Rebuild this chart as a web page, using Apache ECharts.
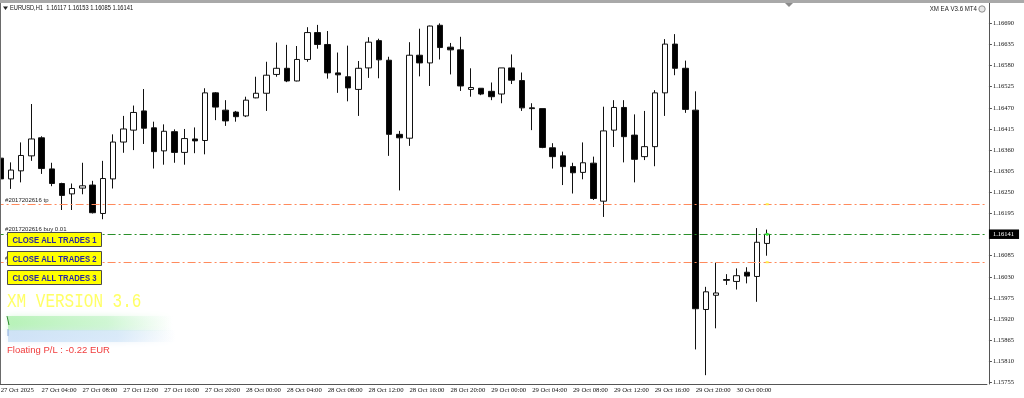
<!DOCTYPE html>
<html><head><meta charset="utf-8">
<script src="https://cdn.jsdelivr.net/npm/echarts@6/dist/echarts.min.js"></script>
<style>html,body{margin:0;padding:0;background:#fff}#c{width:1024px;height:398px}</style>
</head><body><div id="c"></div>
<script>
// ---- data ----
const symbolName = 'EURUSD,H1';
const xTickLabels = ['27 Oct 2025','27 Oct 04:00','27 Oct 08:00','27 Oct 12:00','27 Oct 16:00','27 Oct 20:00',
  '28 Oct 00:00','28 Oct 04:00','28 Oct 08:00','28 Oct 12:00','28 Oct 16:00','28 Oct 20:00',
  '29 Oct 00:00','29 Oct 04:00','29 Oct 08:00','29 Oct 12:00','29 Oct 16:00','29 Oct 20:00','30 Oct 00:00'];
const opens = [1.16339,1.16285,1.16306,1.16345,1.16392,1.16311,1.16273,1.16246,1.16261,1.16269,
  1.16195,1.16285,1.16381,1.16412,1.16462,1.16418,1.16358,1.16408,1.16354,1.16389,
  1.16385,1.16509,1.16464,1.16459,1.16449,1.16496,1.16508,1.16557,1.16573,1.16540,
  1.16596,1.16666,1.16635,1.16561,1.16551,1.16518,1.16574,1.16645,1.16594,1.16401,
  1.16391,1.16607,1.16587,1.16685,1.16628,1.16621,1.16518,1.16521,1.16513,1.16506,
  1.16574,1.16541,1.16470,1.16468,1.16366,1.16345,1.16317,1.16302,1.16326,1.16227,
  1.16412,1.16471,1.16399,1.16343,1.16369,1.16509,1.16636,1.16573,1.16464,1.15945,
  1.15982,1.16023,1.16018,1.16042,1.16031,1.16117];
const highs = [1.16347,1.16328,1.16380,1.16480,1.16396,1.16327,1.16275,1.16273,1.16327,1.16280,
  1.16332,1.16401,1.16449,1.16476,1.16519,1.16434,1.16427,1.16414,1.16415,1.16419,
  1.16521,1.16511,1.16490,1.16462,1.16499,1.16551,1.16590,1.16640,1.16634,1.16631,
  1.16680,1.16686,1.16670,1.16614,1.16632,1.16592,1.16654,1.16650,1.16603,1.16410,
  1.16641,1.16676,1.16684,1.16690,1.16639,1.16655,1.16573,1.16521,1.16536,1.16574,
  1.16609,1.16562,1.16482,1.16468,1.16378,1.16356,1.16327,1.16380,1.16343,1.16473,
  1.16490,1.16490,1.16453,1.16462,1.16516,1.16649,1.16662,1.16593,1.16513,1.16004,
  1.16067,1.16037,1.16052,1.16055,1.16157,1.16153];
const lows = [1.16266,1.16259,1.16276,1.16332,1.16298,1.16266,1.16204,1.16204,1.16245,1.16195,
  1.16180,1.16260,1.16353,1.16360,1.16376,1.16312,1.16322,1.16327,1.16322,1.16352,
  1.16349,1.16438,1.16423,1.16434,1.16446,1.16495,1.16462,1.16551,1.16537,1.16539,
  1.16590,1.16624,1.16546,1.16509,1.16487,1.16449,1.16548,1.16547,1.16345,1.16255,
  1.16371,1.16552,1.16527,1.16596,1.16557,1.16514,1.16499,1.16503,1.16490,1.16482,
  1.16532,1.16462,1.16412,1.16365,1.16312,1.16269,1.16247,1.16284,1.16230,1.16186,
  1.16368,1.16328,1.16276,1.16334,1.16318,1.16449,1.16555,1.16457,1.15841,1.15774,
  1.15896,1.16009,1.15997,1.16013,1.15965,1.16085];
const closes = [1.16285,1.16308,1.16346,1.16389,1.16312,1.16273,1.16242,1.16260,1.16267,1.16197,
  1.16286,1.16381,1.16415,1.16458,1.16417,1.16356,1.16409,1.16354,1.16390,1.16384,
  1.16509,1.16472,1.16436,1.16447,1.16490,1.16508,1.16555,1.16573,1.16540,1.16596,
  1.16666,1.16635,1.16561,1.16556,1.16522,1.16573,1.16641,1.16595,1.16401,1.16392,
  1.16607,1.16587,1.16683,1.16627,1.16621,1.16527,1.16523,1.16506,1.16499,1.16574,
  1.16542,1.16470,1.16468,1.16367,1.16343,1.16317,1.16301,1.16327,1.16234,1.16410,
  1.16471,1.16395,1.16336,1.16369,1.16509,1.16636,1.16573,1.16466,1.15947,1.15991,
  1.15988,1.16021,1.16033,1.16032,1.16120,1.16141];
const yTickLabels = ['1.15755','1.15810','1.15865','1.15920','1.15975','1.16030','1.16085',
  '1.16195','1.16250','1.16305','1.16360','1.16415','1.16470','1.16525','1.16580','1.16635','1.16690'];
const tpPrice = 1.16219;
const slPrice = 1.16068;
const orderPrice = 1.16141;
const orderTicket = '#2017202616';
const floatingPL = 'Floating P/L : -0.22 EUR';
const eaName = 'XM EA V3.6 MT4';
const versionText = 'XM VERSION 3.6';
const buttonLabels = ['CLOSE ALL TRADES 1','CLOSE ALL TRADES 2','CLOSE ALL TRADES 3'];

// ---- build ----
const N_SLOTS = 97;
const cats = Array.from({length: N_SLOTS}, (_, i) => String(i));
const candleData = opens.map((o, i) => [o, closes[i], lows[i], highs[i]]);
const showTick = i => i % 4 === 0 && (i / 4) < xTickLabels.length;
const yTickValues = yTickLabels.map(Number);
const last = opens.length - 1;
const bid = closes[last];
const header = symbolName + '  ' + [opens[last], highs[last], lows[last], closes[last]].map(v => v.toFixed(5)).join(' ');
const SANS = '"Liberation Sans", Arial, sans-serif';
const SERIF = '"Liberation Serif", "Times New Roman", serif';
const dashDot = [8, 3, 2, 3];

const graphics = [
  {type:'rect', shape:{x:0, y:0, width:1024, height:3}, style:{fill:'#a9a9a9'}, z:100},
  {type:'line', shape:{x1:0.5, y1:3, x2:0.5, y2:384}, style:{stroke:'#6a6a6a', lineWidth:1}, z:100},
  {type:'polygon', shape:{points:[[785,3],[793,3],[789,7]]}, style:{fill:'#8c8c8c'}, z:100},
  {type:'polygon', shape:{points:[[3,6.5],[8,6.5],[5.5,10]]}, style:{fill:'#222'}, z:100},
  {type:'text', x:10, y:8.5, scaleX:0.84, style:{text:header, font:'6.8px ' + SANS, fill:'#111', verticalAlign:'middle'}, z:100},
  {type:'text', x:977, y:9, scaleX:0.9, style:{text:eaName, font:'6.8px ' + SANS, fill:'#222', align:'right', verticalAlign:'middle'}, z:100},
  {type:'circle', shape:{cx:982, cy:9, r:3.2}, style:{fill:'#e8e8e8', stroke:'#777', lineWidth:0.8}, z:100},
  {type:'text', x:7, y:302, scaleX:0.8, style:{text:versionText, font:'20px "Liberation Mono", monospace', fill:'#ffff66', verticalAlign:'middle'}, z:100},
  {type:'rect', shape:{x:8, y:316, width:165, height:15}, style:{fill:{type:'linear', x:0, y:0, x2:1, y2:0, colorStops:[
      {offset:0, color:'rgba(170,240,170,0.75)'}, {offset:0.6, color:'rgba(200,245,205,0.7)'}, {offset:1, color:'rgba(225,250,235,0)'}]},
      shadowBlur:6, shadowColor:'rgba(180,240,185,0.6)'}, z:100},
  {type:'rect', shape:{x:8, y:330, width:168, height:12}, style:{fill:{type:'linear', x:0, y:0, x2:1, y2:0, colorStops:[
      {offset:0, color:'rgba(200,222,245,0.8)'}, {offset:0.65, color:'rgba(210,230,248,0.7)'}, {offset:1, color:'rgba(225,238,250,0)'}]},
      shadowBlur:6, shadowColor:'rgba(205,225,245,0.6)'}, z:100},
  {type:'line', shape:{x1:7, y1:316, x2:9, y2:325}, style:{stroke:'#2a8a2a', lineWidth:1}, z:101},
  {type:'line', shape:{x1:8, y1:329, x2:8, y2:336}, style:{stroke:'#88aadd', lineWidth:1}, z:101},
  {type:'text', x:7, y:350.5, style:{text:floatingPL, font:'9.5px ' + SANS, fill:'#f03c3c', verticalAlign:'middle'}, z:100}
];
buttonLabels.forEach((t, i) => {
  const y = 232.5 + i * 19;
  graphics.push({type:'rect', shape:{x:7.5, y:y, width:94, height:14}, style:{fill:'#ffff00', stroke:'#4a4a4a', lineWidth:1}, z:100});
  graphics.push({type:'text', x:54.5, y:y + 7.5, scaleX:0.84, style:{text:t, font:'bold 9.2px ' + SANS, fill:'#2626a6', align:'center', verticalAlign:'middle'}, z:101});
});

const lblStyle = {show:true, position:'insideStartTop', fontSize:6, fontFamily:SANS, color:'#222', distance:[9.5, 1]};
const option = {
  animation: false,
  backgroundColor: '#fff',
  grid: {left: -4.41, right: 37.07, top: 3, bottom: 14, outerBoundsMode: 'none', containLabel: false},
  xAxis: {
    type: 'category', data: cats, boundaryGap: true,
    axisLine: {lineStyle: {color: '#555', width: 1}},
    axisTick: {alignWithLabel: true, interval: (i) => showTick(i), length: 3, lineStyle: {color: '#555'}},
    axisLabel: {interval: (i) => showTick(i), formatter: (v, i) => showTick(i) ? xTickLabels[i / 4] : '',
      align: 'left', fontSize: 6.7, fontFamily: SERIF, color: '#111', margin: 3},
    splitLine: {show: false}
  },
  yAxis: {
    type: 'value', position: 'right', min: 1.15751, max: 1.16743, offset: 2,
    axisLine: {show: true, lineStyle: {color: '#555'}},
    axisTick: {show: true, length: 3, customValues: yTickValues, lineStyle: {color: '#555'}},
    axisLabel: {customValues: yTickValues, formatter: v => v.toFixed(5), fontSize: 6.5, fontFamily: SERIF, color: '#111', margin: 4},
    splitLine: {show: false}
  },
  series: [{
    type: 'candlestick', data: candleData, barWidth: 6,
    itemStyle: {color: '#fff', color0: '#000', borderColor: '#111', borderColor0: '#111', borderWidth: 1},
    markLine: {
      silent: true, symbol: ['none', 'none'], precision: 5, animation: false,
      data: [
        {yAxis: tpPrice, lineStyle: {color: '#ff8a5c', type: dashDot, width: 1}, label: Object.assign({}, lblStyle, {formatter: orderTicket + ' tp'})},
        {yAxis: slPrice, lineStyle: {color: '#ff8a5c', type: dashDot, width: 1}, label: Object.assign({}, lblStyle, {formatter: orderTicket + ' sl'})},
        {yAxis: orderPrice, lineStyle: {color: '#2a8f2a', type: dashDot, width: 1.2}, label: Object.assign({}, lblStyle, {formatter: orderTicket + ' buy 0.01', distance:[9.5, 2]})},
        {yAxis: bid, lineStyle: {color: 'rgba(0,0,0,0)', width: 0.1}, label: {show: true, position: 'end', formatter: bid.toFixed(5), distance: 2,
          backgroundColor: '#000', color: '#fff', fontSize: 6.5, fontFamily: SERIF, padding: [1.5, 5, 1, 4]}}
      ]
    },
    markPoint: {
      silent: true, animation: false, label: {show: false},
      data: [
        {coord: [last, bid], symbol: 'circle', symbolSize: 3, itemStyle: {color: '#33ee33'}},
        {coord: [last, tpPrice], symbol: 'rect', symbolSize: [3, 2], itemStyle: {color: '#ffee44'}},
        {coord: [last, slPrice], symbol: 'rect', symbolSize: [3, 2], itemStyle: {color: '#ffee44'}}
      ]
    }
  }],
  graphic: graphics
};
const chart = echarts.init(document.getElementById('c'), null, {renderer: 'canvas'});
chart.setOption(option);
</script>
</body></html>
